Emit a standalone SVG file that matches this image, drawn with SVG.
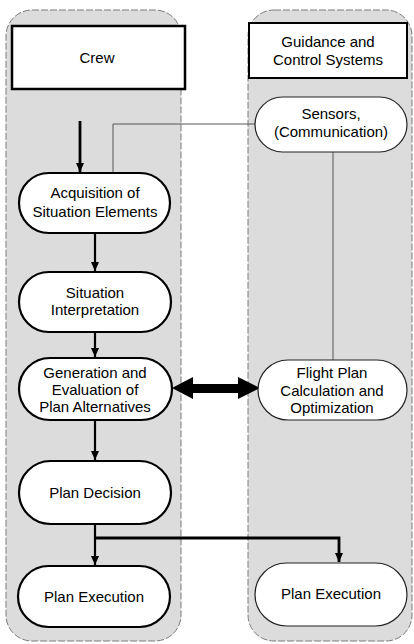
<svg xmlns="http://www.w3.org/2000/svg" width="414" height="644" viewBox="0 0 414 644">
<defs>
<style>
.col{fill:#dcdcdc;stroke:#7a7a7a;stroke-width:1;stroke-dasharray:7 2}
.box{fill:#fff;stroke:#000;stroke-width:2.5}
.pill{fill:#fff;stroke:#000;stroke-width:2.2}
.pill2{fill:#fff;stroke:#222;stroke-width:1.2}
text{font-family:"Liberation Sans",Arial,sans-serif;font-size:15px;fill:#000;text-anchor:middle}
.thin{fill:none;stroke:#555;stroke-width:1}
.flow{fill:none;stroke:#000;stroke-width:2.2}
.flowb{fill:none;stroke:#000;stroke-width:2.8}
</style>
<marker id="ah" markerUnits="userSpaceOnUse" markerWidth="10" markerHeight="10" viewBox="0 0 10 10" refX="9" refY="5" orient="auto">
<path d="M0,1 L9,5 L0,9 Z" fill="#000"/>
</marker>
</defs>
<rect width="414" height="644" fill="#fff"/>
<g id="column-crew"><rect class="col" x="6" y="10" width="175" height="631" rx="26"/></g>
<g id="column-gcs"><rect class="col" x="248" y="10" width="164" height="631" rx="26"/></g>

<g id="connectors">
<line class="flowb" x1="80" y1="121" x2="80" y2="172" marker-end="url(#ah)"/>
<polyline class="thin" points="255,124 113,124 113,173"/>
<line class="thin" x1="333" y1="152" x2="333" y2="360"/>
<line class="flow" x1="95" y1="233" x2="95" y2="271" marker-end="url(#ah)"/>
<line class="flow" x1="95" y1="332" x2="95" y2="357" marker-end="url(#ah)"/>
<line class="flow" x1="95" y1="420" x2="95" y2="460" marker-end="url(#ah)"/>
<line class="flow" x1="95" y1="524" x2="95" y2="565" marker-end="url(#ah)"/>
<polyline class="flowb" points="95,538 339,538 339,562" marker-end="url(#ah)"/>
<path d="M172,388 L193,377 L193,384 L238,384 L238,377 L260,388 L238,399 L238,393 L193,393 L193,399 Z" fill="#000"/>
</g>

<g id="crew"><rect class="box" x="12" y="26" width="173" height="63"/><text x="97" y="63">Crew</text></g>
<g id="gcs"><rect class="box" x="249" y="23" width="158" height="55" style="stroke-width:2"/><text x="328" y="47">Guidance and</text><text x="328" y="65">Control Systems</text></g>

<g id="sensors"><rect class="pill2" x="255" y="97" width="152" height="55" rx="27.5"/><text x="331" y="119">Sensors,</text><text x="331" y="137">(Communication)</text></g>
<g id="acquisition"><rect class="pill" x="19" y="173" width="151" height="60" rx="30"/><text x="95" y="198">Acquisition of</text><text x="95" y="217">Situation Elements</text></g>
<g id="interpretation"><rect class="pill" x="19" y="272" width="152" height="60" rx="30"/><text x="95" y="298">Situation</text><text x="95" y="315">Interpretation</text></g>
<g id="generation"><rect class="pill" x="19" y="358" width="153" height="62" rx="31"/><text x="95" y="378">Generation and</text><text x="95" y="395">Evaluation of</text><text x="95" y="412">Plan Alternatives</text></g>
<g id="flightplan"><rect class="pill2" x="258" y="360" width="149" height="60" rx="30"/><text x="332" y="378">Flight Plan</text><text x="332" y="396">Calculation and</text><text x="332" y="413">Optimization</text></g>
<g id="decision"><rect class="pill" x="19" y="461" width="152" height="63" rx="31.5"/><text x="95" y="498">Plan Decision</text></g>
<g id="execution-crew"><rect class="pill" x="18" y="566" width="152" height="61" rx="30.5"/><text x="94" y="602">Plan Execution</text></g>
<g id="execution-gcs"><rect class="pill2" x="255" y="563" width="152" height="63" rx="31.5"/><text x="331" y="599">Plan Execution</text></g>
</svg>
